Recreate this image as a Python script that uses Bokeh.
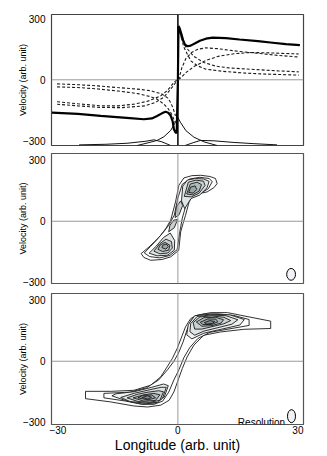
from bokeh.plotting import figure
from bokeh.layouts import column
from bokeh.models import Span, FixedTicker
from bokeh.embed import file_html
from bokeh.resources import INLINE
from bokeh.core.properties import value

FONT = "Liberation Sans"

# ---------------- axes -----------------
x_ticks = [-30, 0, 30]
y_ticks = [-300, 0, 300]
x_label = "Longitude (arb. unit)"
y_label = "Velocity (arb. unit)"

# ---------------- panel 1: rotation curve + components -----------------
rot_lon = [-31.5, -25, -19.3, -12, -8.5, -6.5, -5.2, -4, -3.1, -2.4, -1.8, -1.3, -1.0, -0.6, -0.3,
           0.0, 0.15, 0.4, 0.8, 1.3, 1.8, 2.4, 3.2, 4.2, 5.5, 7, 8.7, 12, 15.4, 20, 23.7, 27, 30.5]
rot_vel = [-161, -168, -177, -188, -194, -190, -178, -165, -157, -162, -177, -205, -243, -259, -262,
           0, 265, 255, 230, 195, 172, 165, 168, 178, 192, 202, 207, 205, 198, 190, 182, 175, 170]

# dashed components, right side
r1_lon = [0.2, 1, 2, 3.5, 5, 7, 10, 15, 20, 25, 30.2]
r1_vel = [0, 60, 105, 135, 150, 157, 153, 140, 130, 120, 112]
r2_lon = [0.2, 2, 4, 7, 10, 14, 18, 22, 26, 30.2]
r2_vel = [0, 35, 65, 95, 115, 128, 134, 133, 130, 127]
r3_lon = [0.3, 1, 2, 4, 6.5, 9.5, 13, 19.7, 25, 30.2]
r3_vel = [240, 200, 160, 115, 85, 67, 58, 50, 44, 39]
r4_lon = [0.3, 0.8, 1.5, 2.5, 3.3, 5, 7, 11, 16, 22, 30.2]
r4_vel = [255, 210, 160, 120, 92, 68, 52, 42, 34, 28, 23]
# dashed components, left side
l1_lon = [-30.2, -25, -20, -15.2, -10, -6.8, -4, -2.5, -1.8, -1.2, -0.6]
l1_vel = [-20, -24, -30, -38, -46, -54, -70, -90, -112, -140, -177]
l2_lon = [-30.2, -25, -20, -15, -10, -7, -5.2, -3.5, -2.5, -1.8, -1.2, -0.7]
l2_vel = [-35, -38, -45, -55, -68, -82, -95, -120, -140, -161, -185, -210]
l3_lon = [-30.2, -25, -19.3, -15, -11, -7.5, -4.3, -2.5, -1, -0.2]
l3_vel = [-108, -118, -128, -128, -120, -105, -79, -50, -13, 0]
l4_lon = [-30.2, -25, -19.3, -14, -8.2, -5.5, -3.5, -1.8, -0.8, -0.2]
l4_vel = [-120, -128, -136, -137, -128, -110, -85, -46, -20, 0]

# thin profiles along the bottom
pf1_lon = [-24.7, -18, -12.7, -8, -6, -4, -1.8]
pf1_vel = [-320, -317, -312, -302, -295, -305, -323]
pf2_lon = [-10.2, -7.5, -5.2, -3.5, -1.8, -0.6, 0]
pf2_vel = [-323, -310, -298, -280, -249, -208, -185]
pf3_lon = [0, 0.6, 2, 4, 6.5, 9.8]
pf3_vel = [-185, -208, -250, -282, -305, -323]
pf4_lon = [1.8, 4, 5.7, 9, 14, 19, 24.8]
pf4_vel = [-323, -308, -298, -300, -308, -314, -320]

# ---------------- panel 2: PV contours -----------------
p2_c0_lon = [-9.2, -8.5, -6.8, -4.0, -1.8, 0.2, 0.7, 1.3, 1.9, 2.8, 3.6, 5.5, 7.3, 9.0, 9.8, 9.4, 8.0, 5.7, 3.5, 1.5, 0.25, -0.6, -1.8, -3.0, -4.3, -5.8, -7.2]
p2_c0_vel = [-159, -178, -192, -188, -175, -143, -52, -10, 29, 95, 128, 137, 144, 165, 185, 210, 220, 226, 224, 213, 177, 95, 5, -35, -69, -100, -126]
p2_c1_lon = [-8.4, -7.0, -4.5, -2.0, -0.2, 0.4, 1.1, 2.1, 3.2, 5.3, 7.6, 8.6, 7.8, 5.5, 3.0, 1.1, 0.0, -0.9, -2.3, -3.8, -5.3, -6.8]
p2_c1_vel = [-156, -174, -180, -168, -140, -60, 15, 85, 120, 132, 160, 195, 210, 216, 208, 182, 115, 30, -20, -58, -92, -123]
p2_lo3_lon = [-7.2, -5.2, -2.6, -0.9, -0.8, -1.9, -3.6, -5.4]
p2_lo3_vel = [-157, -170, -167, -142, -95, -58, -80, -122]
p2_lo4_lon = [-6.0, -4.5, -2.5, -1.4, -1.6, -3.0, -4.6]
p2_lo4_vel = [-147, -160, -156, -132, -100, -88, -112]
p2_lo5_lon = [-5.0, -3.8, -2.3, -2.0, -3.2, -4.4]
p2_lo5_vel = [-138, -149, -142, -118, -104, -116]
p2_lo6_lon = [-4.0, -3.0, -2.4, -2.9, -3.8]
p2_lo6_vel = [-130, -137, -124, -112, -118]
p2_up3_lon = [0.9, 1.7, 3.3, 5.4, 7.3, 7.8, 6.4, 4.4, 2.4, 1.2]
p2_up3_vel = [100, 62, 112, 128, 165, 196, 208, 210, 203, 172]
p2_up4_lon = [1.6, 3.4, 5.3, 6.8, 6.4, 4.5, 2.6]
p2_up4_vel = [122, 120, 138, 176, 197, 202, 192]
p2_up5_lon = [2.2, 3.7, 5.3, 5.9, 4.8, 3.1]
p2_up5_vel = [134, 130, 148, 180, 192, 183]
p2_up6_lon = [2.7, 3.8, 4.7, 4.3, 3.2]
p2_up6_vel = [142, 138, 156, 174, 168]
p2_mid_a_lon = [-0.7, 0.3, 1.2, 0.7, -0.4]
p2_mid_a_vel = [18, 32, 78, 100, 70]
p2_mid_b_lon = [-2.3, -0.9, -0.1, -1.0, -2.0]
p2_mid_b_vel = [-52, -32, 8, 6, -20]

# ---------------- panel 3: PV contours -----------------
p3_c0_lon = [23.2, 15.7, 12.4, 8.2, 4.8, 3.2, 1.9, 1.1, -0.2, -1.4, -2.7, -4.3, -6.8, -11.0, -16.8, -23.1,
             -23.1, -16.8, -11.0, -7.6, -4.3, -2.2, -1.0, 0.2, 1.1, 2.3, 4.0, 6.5, 10.7, 16.5, 23.2]
p3_c0_vel = [197, 226, 239, 239, 226, 210, 169, 128, 62, 13, -28, -77, -118, -143, -148, -148,
             -184, -200, -220, -225, -216, -192, -151, -85, -36, 21, 79, 128, 144, 157, 161]
p3_c1_lon = [17.8, 14.0, 10.0, 6.5, 4.4, 3.2, 2.3, 1.3, 0.1, -1.1, -2.6, -4.8, -7.8, -12.0, -18.5,
             -18.5, -13.0, -9.0, -6.0, -3.8, -2.3, -1.0, 0.3, 1.5, 3.0, 5.0, 8.0, 12.0, 17.8]
p3_c1_vel = [205, 225, 233, 232, 222, 198, 155, 95, 38, -3, -42, -92, -130, -152, -158,
             -180, -196, -212, -212, -196, -152, -92, -40, 18, 68, 112, 142, 156, 176]
p3_up2_lon = [2.6, 4.2, 8.0, 13.0, 16.6, 15.5, 11.0, 6.5, 3.5, 2.2]
p3_up2_vel = [180, 224, 231, 228, 205, 178, 158, 138, 110, 130]
p3_up3_lon = [3.2, 4.8, 8.0, 12.0, 15.0, 13.5, 10.0, 6.5, 4.2, 3.0]
p3_up3_vel = [185, 220, 227, 224, 204, 182, 165, 148, 128, 145]
p3_up4_lon = [3.8, 5.5, 8.5, 11.5, 13.2, 11.5, 8.5, 6.0, 4.2]
p3_up4_vel = [190, 218, 223, 216, 200, 184, 170, 158, 158]
p3_up5_lon = [4.6, 6.5, 9.5, 11.4, 10.8, 8.5, 6.0]
p3_up5_vel = [193, 214, 216, 204, 188, 175, 172]
p3_up6_lon = [5.6, 7.5, 9.5, 10.0, 8.5, 6.2]
p3_up6_vel = [192, 208, 207, 194, 181, 180]
p3_up7_lon = [6.6, 8.0, 9.2, 8.6, 7.2]
p3_up7_vel = [190, 200, 195, 186, 183]
p3_lo2_lon = [-16.5, -13.0, -9.0, -5.5, -3.4, -2.4, -3.6, -6.5, -11.0, -15.5]
p3_lo2_vel = [-170, -194, -210, -205, -176, -120, -112, -128, -150, -160]
p3_lo3_lon = [-14.3, -12.0, -8.0, -5.0, -3.8, -2.9, -4.2, -7.0, -11.0]
p3_lo3_vel = [-178, -198, -206, -202, -180, -128, -128, -140, -158]
p3_lo4_lon = [-12.7, -10.0, -7.0, -4.5, -3.6, -4.8, -7.5, -10.0]
p3_lo4_vel = [-180, -198, -202, -192, -150, -145, -152, -162]
p3_lo5_lon = [-11.2, -8.5, -5.6, -4.5, -6.0, -8.5]
p3_lo5_vel = [-180, -196, -193, -165, -158, -165]
p3_lo6_lon = [-10.0, -7.5, -5.6, -6.5, -8.8]
p3_lo6_vel = [-180, -190, -180, -166, -168]
p3_lo7_lon = [-9.0, -7.5, -6.6, -7.6]
p3_lo7_vel = [-178, -186, -177, -170]

# beam (resolution) ellipses
beam2_lon, beam2_vel, beam2_w, beam2_h = 28.3, -261, 2.2, 58
beam3_lon, beam3_vel, beam3_w, beam3_h = 28.4, -270, 2.0, 64
res_text = "Resolution"
res_lon, res_vel = 26.8, -302

level_fill = ["white", "white", "#eff2f2", "#dfe4e4", "#c9d0d0", "#b2bbbb", "#9aa5a5", "#838e8e"]

X_RANGE = (-31.6, 31.4)


def make_fig(height, y_range, top, bottom, show_x):
    p = figure(width=314, height=height, x_range=X_RANGE, y_range=y_range,
               output_backend="svg", toolbar_location=None,
               min_border_left=51, min_border_right=11,
               min_border_top=top, min_border_bottom=bottom)
    p.grid.visible = False
    p.outline_line_color = "#555555"
    p.outline_line_width = 1.2
    p.background_fill_color = "white"
    p.border_fill_color = "white"
    for ax in (p.xaxis[0], p.yaxis[0]):
        ax.axis_line_color = None
        ax.major_tick_line_color = None
        ax.minor_tick_line_color = None
        ax.major_tick_out = 0
        ax.major_tick_in = 0
        ax.minor_tick_out = 0
        ax.minor_tick_in = 0
        ax.major_label_text_font = FONT
        ax.major_label_text_font_size = "10px"
        ax.major_label_text_color = "black"
        ax.axis_label_text_font = FONT
        ax.axis_label_text_font_style = "normal"
        ax.axis_label_text_color = "black"
    p.yaxis.ticker = FixedTicker(ticks=y_ticks)
    p.yaxis.axis_label = y_label
    p.yaxis.axis_label_text_font_size = "9px"
    p.yaxis.major_label_standoff = 6
    p.yaxis.axis_label_standoff = -8
    p.xaxis.ticker = FixedTicker(ticks=x_ticks)
    if show_x:
        p.xaxis.axis_label = x_label
        p.xaxis.axis_label_text_font_size = "14px"
        p.xaxis.major_label_standoff = 1
        p.xaxis.axis_label_standoff = 0
    else:
        p.xaxis.visible = False
    p.add_layout(Span(location=0, dimension="width", line_color="#9a9a9a", line_width=1))
    return p


def draw_contours(p, polys):
    p.patches([a for a, b, c in polys], [b for a, b, c in polys],
              fill_color=[level_fill[c] for a, b, c in polys],
              line_color="#1a1a1a", line_width=0.9)


# ---- panel 1
p1 = make_fig(149, (-323, 321), 14, 4, False)
p1.outline_line_color = "#444444"
p1.add_layout(Span(location=0, dimension="height", line_color="black", line_width=1.5))
for lx, ly in [(r1_lon, r1_vel), (r2_lon, r2_vel), (r3_lon, r3_vel), (r4_lon, r4_vel),
               (l1_lon, l1_vel), (l2_lon, l2_vel), (l3_lon, l3_vel), (l4_lon, l4_vel)]:
    p1.line(lx, ly, line_color="#1a1a1a", line_width=1.1, line_dash="3 2")
for lx, ly in [(pf1_lon, pf1_vel), (pf2_lon, pf2_vel), (pf3_lon, pf3_vel), (pf4_lon, pf4_vel)]:
    p1.line(lx, ly, line_color="#111111", line_width=1)
p1.line(rot_lon, rot_vel, line_color="black", line_width=2.2)

# ---- panel 2
p2 = make_fig(139, (-306, 333), 4, 5, False)
p2.add_layout(Span(location=0, dimension="height", line_color="#9a9a9a", line_width=1))
draw_contours(p2, [
    (p2_c0_lon, p2_c0_vel, 0), (p2_c1_lon, p2_c1_vel, 1),
    (p2_lo3_lon, p2_lo3_vel, 3), (p2_up3_lon, p2_up3_vel, 3),
    (p2_mid_a_lon, p2_mid_a_vel, 4), (p2_mid_b_lon, p2_mid_b_vel, 4),
    (p2_lo4_lon, p2_lo4_vel, 4), (p2_up4_lon, p2_up4_vel, 4),
    (p2_lo5_lon, p2_lo5_vel, 5), (p2_up5_lon, p2_up5_vel, 5),
    (p2_lo6_lon, p2_lo6_vel, 6), (p2_up6_lon, p2_up6_vel, 6),
])
p2.ellipse(x=[beam2_lon], y=[beam2_vel], width=beam2_w, height=beam2_h,
           fill_color="#f1f1f6", line_color="black", line_width=1)

# ---- panel 3
p3 = make_fig(168, (-311, 333), 5, 32, True)
p3.add_layout(Span(location=0, dimension="height", line_color="#9a9a9a", line_width=1))
draw_contours(p3, [
    (p3_c0_lon, p3_c0_vel, 0), (p3_c1_lon, p3_c1_vel, 1),
    (p3_up2_lon, p3_up2_vel, 2), (p3_lo2_lon, p3_lo2_vel, 2),
    (p3_up3_lon, p3_up3_vel, 3), (p3_lo3_lon, p3_lo3_vel, 3),
    (p3_up4_lon, p3_up4_vel, 4), (p3_lo4_lon, p3_lo4_vel, 4),
    (p3_up5_lon, p3_up5_vel, 5), (p3_lo5_lon, p3_lo5_vel, 5),
    (p3_up6_lon, p3_up6_vel, 6), (p3_lo6_lon, p3_lo6_vel, 6),
    (p3_up7_lon, p3_up7_vel, 7), (p3_lo7_lon, p3_lo7_vel, 7),
])
p3.ellipse(x=[beam3_lon], y=[beam3_vel], width=beam3_w, height=beam3_h,
           fill_color="#f1f1f6", line_color="black", line_width=1)
p3.text(x=[res_lon], y=[res_vel], text=[res_text], text_align="right",
        text_baseline="alphabetic", text_font=value(FONT), text_font_size="10px",
        text_color="black")

layout = column(p1, p2, p3)
open("out.html", "w").write(file_html(layout, INLINE))
